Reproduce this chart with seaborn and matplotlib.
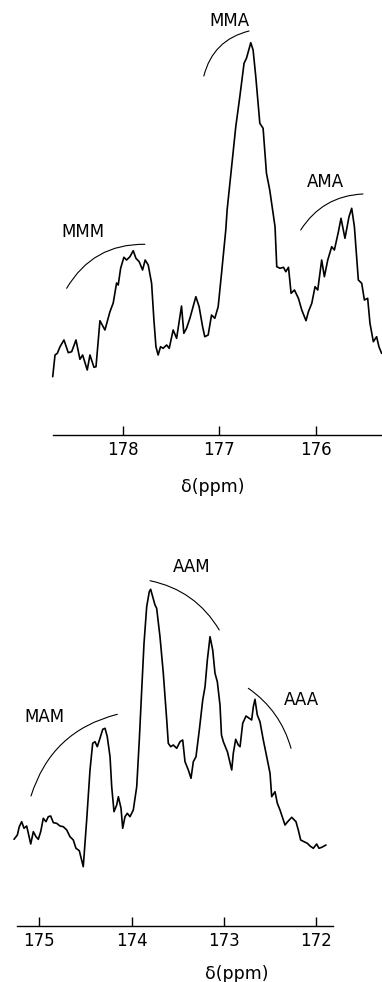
import matplotlib
matplotlib.use("Agg")
import matplotlib.pyplot as plt
import seaborn as sns
import pandas as pd

# upper spectrum (MMM / MMA / AMA triads)
upper_ppm = [178.733, 178.709, 178.685, 178.657, 178.616, 178.571, 178.536, 178.491,
             178.450, 178.422, 178.374, 178.346, 178.304, 178.283, 178.242, 178.190,
             178.138, 178.104, 178.069, 178.052, 178.027, 177.993, 177.965, 177.930,
             177.896, 177.868, 177.834, 177.799, 177.772, 177.740, 177.705, 177.681,
             177.660, 177.637, 177.612, 177.585, 177.549, 177.522, 177.481, 177.445,
             177.394, 177.370, 177.342, 177.307, 177.245, 177.211, 177.175, 177.152,
             177.117, 177.082, 177.048, 177.013, 176.978, 176.934, 176.920, 176.830,
             176.788, 176.744, 176.719, 176.674, 176.650, 176.622, 176.580, 176.546,
             176.511, 176.477, 176.422, 176.404, 176.370, 176.334, 176.310, 176.282,
             176.255, 176.220, 176.179, 176.144, 176.100, 176.075, 176.040, 176.006,
             175.978, 175.937, 175.909, 175.874, 175.833, 175.805, 175.763, 175.736,
             175.695, 175.653, 175.625, 175.597, 175.556, 175.521, 175.493, 175.459,
             175.435, 175.400, 175.366, 175.342, 175.314]
upper_int = [58.3, 80.0, 81.7, 88.3, 95.0, 82.3, 83.3, 95.0,
             75.7, 80.0, 65.0, 80.0, 67.7, 68.3, 114.3, 105.0,
             123.3, 132.0, 152.0, 150.0, 166.7, 177.7, 175.0, 178.3,
             184.3, 176.7, 173.3, 165.0, 175.0, 170.0, 151.7, 115.0,
             88.3, 80.0, 88.3, 86.7, 90.0, 86.7, 105.0, 96.7,
             129.0, 101.7, 106.7, 116.7, 138.3, 128.3, 108.3, 98.3,
             100.0, 120.0, 116.7, 128.3, 161.7, 205.0, 225.0, 308.3,
             338.3, 371.7, 376.7, 392.3, 385.0, 358.3, 311.7, 306.7,
             261.7, 245.0, 208.3, 168.3, 166.7, 167.7, 163.3, 167.7,
             141.7, 145.0, 136.7, 125.0, 114.3, 123.3, 131.7, 148.3,
             145.0, 175.0, 158.3, 175.0, 188.3, 185.0, 203.3, 216.7,
             196.7, 218.3, 226.7, 208.3, 155.0, 151.7, 135.0, 136.7,
             111.7, 93.3, 98.3, 88.3, 81.7]

# lower spectrum (MAM / AAM / AAA triads)
lower_ppm = [175.274, 175.238, 175.217, 175.191, 175.166, 175.137, 175.119, 175.093,
             175.065, 175.036, 175.011, 174.985, 174.957, 174.928, 174.903, 174.877,
             174.848, 174.812, 174.776, 174.740, 174.703, 174.668, 174.632, 174.603,
             174.567, 174.524, 174.487, 174.451, 174.422, 174.397, 174.372, 174.343,
             174.313, 174.288, 174.264, 174.234, 174.216, 174.191, 174.162, 174.144,
             174.115, 174.097, 174.072, 174.047, 174.018, 173.982, 173.945, 173.917,
             173.891, 173.866, 173.837, 173.809, 173.794, 173.772, 173.747, 173.729,
             173.693, 173.657, 173.620, 173.603, 173.577, 173.549, 173.512, 173.476,
             173.447, 173.422, 173.386, 173.357, 173.332, 173.303, 173.267, 173.230,
             173.205, 173.180, 173.151, 173.122, 173.097, 173.072, 173.043, 173.027,
             173.007, 172.962, 172.916, 172.899, 172.873, 172.845, 172.826, 172.797,
             172.761, 172.726, 172.700, 172.682, 172.664, 172.639, 172.610, 172.574,
             172.537, 172.501, 172.483, 172.447, 172.422, 172.393, 172.357, 172.339,
             172.310, 172.266, 172.220, 172.195, 172.169, 172.133, 172.097, 172.068,
             172.032, 171.996, 171.971, 171.941, 171.895]
lower_int = [86.7, 91.0, 99.3, 104.3, 97.7, 100.0, 92.7, 82.0,
             94.3, 89.3, 86.7, 94.3, 107.7, 104.3, 109.3, 110.0,
             103.3, 102.7, 100.0, 99.3, 96.0, 89.3, 86.0, 77.7,
             75.3, 59.3, 106.0, 156.0, 182.7, 184.3, 179.3, 187.7,
             196.7, 197.7, 189.3, 169.3, 139.3, 114.3, 121.0, 129.3,
             117.7, 97.7, 109.3, 112.7, 109.3, 116.0, 139.3, 186.0,
             236.0, 282.7, 319.3, 334.3, 336.7, 329.3, 321.0, 317.7,
             289.3, 252.7, 206.0, 182.7, 179.3, 181.0, 177.7, 184.3,
             186.0, 164.3, 156.0, 147.7, 164.3, 169.3, 196.0, 226.0,
             239.3, 266.0, 289.3, 276.0, 252.7, 244.3, 221.0, 191.0,
             184.3, 174.0, 156.0, 172.7, 186.7, 181.0, 179.3, 202.7,
             210.0, 207.7, 206.0, 219.3, 226.7, 211.0, 204.3, 186.0,
             169.3, 152.7, 129.3, 134.3, 122.7, 116.0, 106.0, 101.0,
             104.3, 108.7, 104.3, 96.0, 86.0, 84.3, 82.7, 80.0,
             77.7, 82.0, 77.7, 78.7, 81.0]

upper_ticks = [178, 177, 176]
lower_ticks = [175, 174, 173, 172]

upper_names = ["MMM", "MMA", "AMA"]
lower_names = ["MAM", "AAM", "AAA"]

# label anchor points and bracket arcs (start, end, curvature), in (ppm, intensity)
upper_label_xy = [(178.415, 203.3), (176.892, 414.3), (175.895, 253.3)]
upper_arcs = [((178.588, 146.7), (177.775, 190.7), -0.29),
              ((177.162, 359.0), (176.692, 404.0), -0.30),
              ((176.155, 205.0), (175.508, 241.0), -0.26)]
lower_label_xy = [(174.949, 209.3), (173.349, 358.7), (172.158, 226.0)]
lower_arcs = [((175.090, 130.0), (174.155, 211.7), -0.28),
              ((173.801, 345.3), (173.051, 296.0), -0.22),
              ((172.736, 237.7), (172.274, 177.7), -0.18)]


def draw_panel(ax, ppm, inten, ticks, xlim, ylim, names, label_xy, arcs, xlabel_xy):
    df = pd.DataFrame({"ppm": ppm, "intensity": inten})
    sns.lineplot(data=df, x="ppm", y="intensity", ax=ax, color="black",
                 linewidth=1.2, sort=False, estimator=None, clip_on=False)
    ax.set_xlim(*xlim)
    ax.set_ylim(*ylim)
    ax.set_yticks([])
    ax.set_ylabel("")
    ax.set_xticks(ticks)
    ax.set_xticklabels([str(t) for t in ticks])
    ax.tick_params(axis="x", direction="in", length=6.5, width=1.0, pad=4.5,
                   labelsize=12, color="black", labelcolor="black")
    ax.set_xlabel("δ(ppm)", fontsize=12.5, color="black")
    ax.xaxis.label.set_va("center")
    ax.xaxis.set_label_coords(*xlabel_xy)
    sns.despine(ax=ax, left=True)
    ax.spines["bottom"].set_linewidth(1.0)
    ax.spines["bottom"].set_color("black")

    for name, (x, y) in zip(names, label_xy):
        ax.text(x, y, name, ha="center", va="center", fontsize=12,
                color="black", clip_on=False)
    for start, end, rad in arcs:
        ax.annotate("", xy=end, xytext=start, annotation_clip=False,
                    arrowprops=dict(arrowstyle="-", color="black", lw=0.8,
                                    shrinkA=0, shrinkB=0,
                                    connectionstyle=f"arc3,rad={rad}"))


sns.set_style("ticks")
plt.rcParams["font.family"] = ["DejaVu Sans"]
plt.rcParams["text.color"] = "black"
plt.rcParams["axes.labelcolor"] = "black"

fig = plt.figure(figsize=(3.82, 9.82), dpi=100)
W, H = 382.0, 982.0

# upper panel: spine from x=53 to 382 px, at y=435 px
ax1 = fig.add_axes([53 / W, 1 - 435 / H, (382 - 53) / W, 415 / H])
draw_panel(ax1, upper_ppm, upper_int, upper_ticks, (178.73, 175.31), (0, 415),
           upper_names, upper_label_xy, upper_arcs, (0.486, -0.1246))

# lower panel: spine from x=16.7 to 333 px, at y=926 px
ax2 = fig.add_axes([16.7 / W, 1 - 926 / H, (333 - 16.7) / W, 366 / H])
draw_panel(ax2, lower_ppm, lower_int, lower_ticks, (175.245, 171.819), (0, 366),
           lower_names, lower_label_xy, lower_arcs, (0.6965, -0.1311))

fig.savefig("out.png", dpi=100, facecolor="white")
